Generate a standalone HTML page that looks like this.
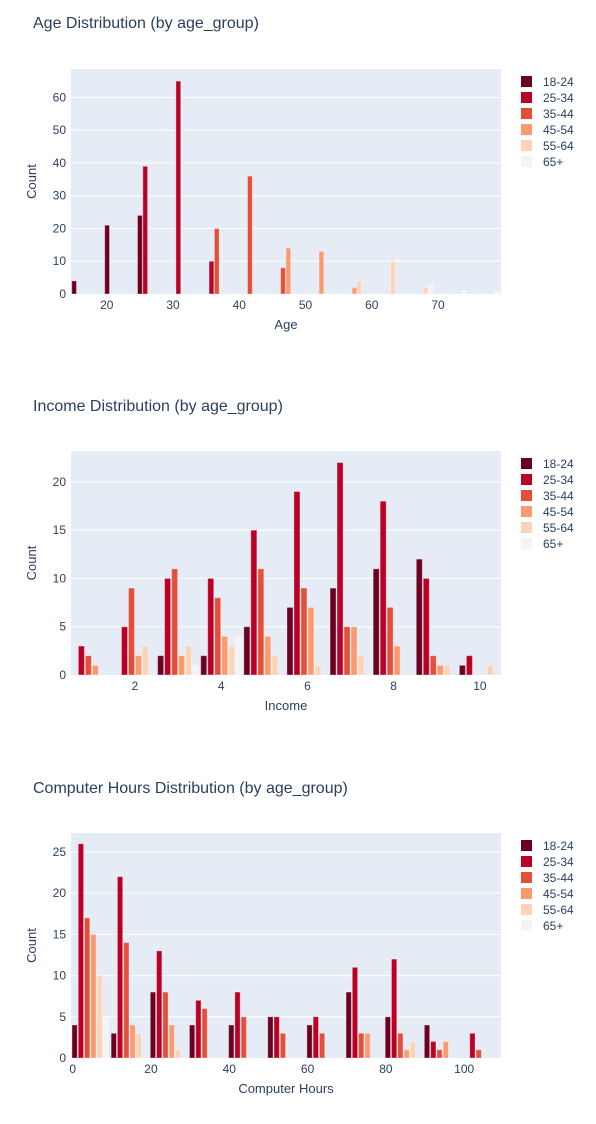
<!DOCTYPE html>
<html><head><meta charset="utf-8">
<style>
body{margin:0;background:#fff;font-family:"Liberation Sans",Arial,sans-serif;}
svg text{font-family:"Liberation Sans",Arial,sans-serif;fill:#2a3f5f;}
</style></head>
<body>
<svg id="fig" width="596" height="1119" xmlns="http://www.w3.org/2000/svg"></svg>
<script>
const groups = ["18-24","25-34","35-44","45-54","55-64","65+"];
const colors = ["#6b0020","#bb0026","#e3503a","#fb9a6e","#fdd3b8","#f4f4f4"];

// Chart 1: Age (bar centers per series & counts)
const ageX = [[15.07,20.05,25.0],[25.8,30.8,35.8],[36.6,41.6,46.6],[47.4,52.4,57.4],[58.1,63.2,68.1],[68.9,73.9,78.9]];
const ageY = [[4,21,24],[39,65,10],[20,36,8],[14,13,2],[4,10,2],[3,1,1]];
const ageXTicks = [20,30,40,50,60,70];
const ageYTicks = [0,10,20,30,40,50,60];

// Chart 2: Income (groups at integer bins)
const incBins = [1,2,3,4,5,6,7,8,9,10];
const inc1824 = [0,0,2,2,5,7,9,11,12,1];
const inc2534 = [3,5,10,10,15,19,22,18,10,2];
const inc3544 = [2,9,11,8,11,9,5,7,2,0];
const inc4554 = [1,2,2,4,4,7,5,3,1,0];
const inc5564 = [0,3,3,3,2,1,2,0,1,1];
const inc65 = [0,0,1,4,0,0,0,0,0,0];
const incXTicks = [2,4,6,8,10];
const incYTicks = [0,5,10,15,20];

// Chart 3: Computer hours (bins of 10, centered)
const hrsBins = [4.5,14.5,24.5,34.5,44.5,54.5,64.5,74.5,84.5,94.5,104.5];
const hrs1824 = [4,3,8,4,4,5,4,8,5,4,0];
const hrs2534 = [26,22,13,7,8,5,5,11,12,2,3];
const hrs3544 = [17,14,8,6,5,3,3,3,3,1,1];
const hrs4554 = [15,4,4,0,0,0,0,3,1,2,0];
const hrs5564 = [10,3,1,0,0,0,0,0,2,0,0];
const hrs65 = [5,0,0,0,0,0,0,0,0,0,0];
const hrsXTicks = [0,20,40,60,80,100];
const hrsYTicks = [0,5,10,15,20,25];

const NS="http://www.w3.org/2000/svg";
const svg=document.getElementById('fig');
function mk(tag,attrs,parent){const e=document.createElementNS(NS,tag);for(const k in attrs)e.setAttribute(k,attrs[k]);(parent||svg).appendChild(e);return e;}
function txt(s,attrs,parent){const e=mk('text',attrs,parent);e.textContent=s;return e;}

function chart(cfg){
  const g=mk('g',{});
  
  
  const L=71,R=501,T=cfg.top,B=cfg.bottom;
  const sx=v=>L+(v-cfg.xmin)/(cfg.xmax-cfg.xmin)*(R-L);
  const sy=v=>B-v/cfg.ymax*(B-T);
  const t=txt(cfg.title,{x:33,y:cfg.titleY,'font-size':16},g);
  
  
  const bg=mk('rect',{x:L,y:T,width:R-L,height:B-T,fill:'#e5ecf6'},g);
  
  
  cfg.yticks.forEach(v=>{
    if(v>0){const ln=mk('line',{x1:L,x2:R,y1:sy(v),y2:sy(v),stroke:'#fff','stroke-width':1},g);
      
      }
    const tl=txt(String(v),{x:L-5,y:sy(v)+4,'font-size':12,'text-anchor':'end'},g);
    
    
  });
  cfg.xticks.forEach(v=>{
    const tl=txt(String(v),{x:sx(v),y:B+15,'font-size':12,'text-anchor':'middle'},g);
    
    
  });
  cfg.series.forEach((s,i)=>{
    s.x.forEach((xv,j)=>{
      const v=s.y[j]; if(!v) return;
      const x0=sx(xv-cfg.bw/2), x1=sx(xv+cfg.bw/2);
      const r=mk('rect',{x:x0,y:sy(v),width:x1-x0,height:sy(0)-sy(v),fill:colors[i],stroke:'rgba(255,255,255,0.35)','stroke-width':1},g);
      
      
    });
  });
  const xt=txt(cfg.xlabel,{x:(L+R)/2,y:B+35,'font-size':13,'text-anchor':'middle'},g);
  
  
  const ym=(T+B)/2;
  const yt=txt('Count',{x:36,y:ym,'font-size':13,'text-anchor':'middle',transform:'rotate(-90 36 '+ym+')'},g);
  
  
  groups.forEach((gname,i)=>{
    const y=cfg.top+13+i*16;
    const lg=mk('g',{},g);
    
    
    mk('rect',{x:521,y:y-6,width:11,height:11,fill:colors[i]},lg);
    txt(gname,{x:543,y:y+4,'font-size':12},lg);
  });
}

function grp(bins,arrs,slot){return arrs.map((a,i)=>({x:bins.map(b=>b+(i-2.5)*slot),y:a}));}

chart({name:'age-chart',title:'Age Distribution (by age_group)',titleY:28,top:69,bottom:294,
  xmin:14.6,xmax:79.5,ymax:68.7,bw:0.72,xticks:ageXTicks,yticks:ageYTicks,xlabel:'Age',
  series:ageX.map((xs,i)=>({x:xs,y:ageY[i]}))});
chart({name:'income-chart',title:'Income Distribution (by age_group)',titleY:411,top:451,bottom:675,
  xmin:0.516,xmax:10.49,ymax:23.2,bw:0.14,xticks:incXTicks,yticks:incYTicks,xlabel:'Income',
  series:grp(incBins,[inc1824,inc2534,inc3544,inc4554,inc5564,inc65],0.162)});
chart({name:'hours-chart',title:'Computer Hours Distribution (by age_group)',titleY:793,top:833,bottom:1058,
  xmin:-0.43,xmax:109.4,ymax:27.3,bw:1.36,xticks:hrsXTicks,yticks:hrsYTicks,xlabel:'Computer Hours',
  series:grp(hrsBins,[hrs1824,hrs2534,hrs3544,hrs4554,hrs5564,hrs65],1.6)});
</script>
</body></html>
